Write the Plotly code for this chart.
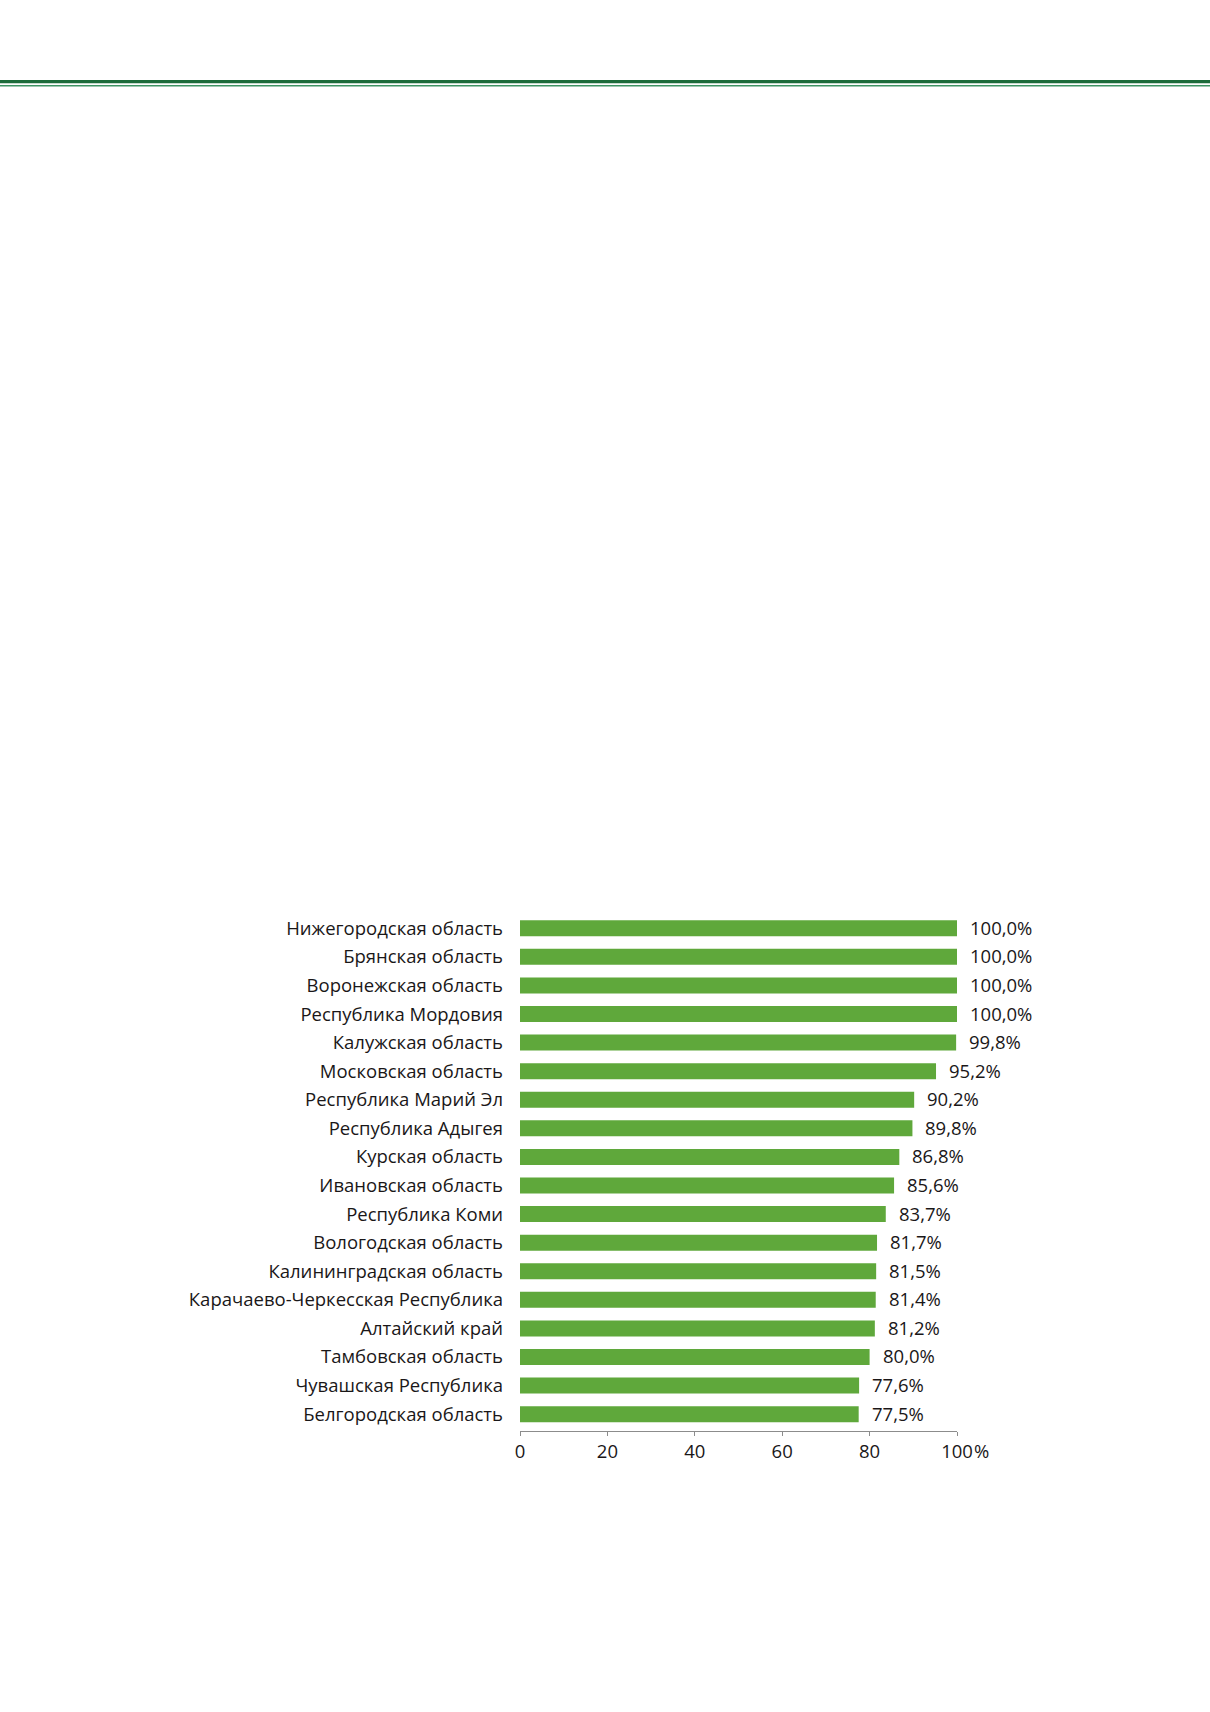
import plotly.graph_objects as go

# Data (share, %)
regions = [
    "Нижегородская область",
    "Брянская область",
    "Воронежская область",
    "Республика Мордовия",
    "Калужская область",
    "Московская область",
    "Республика Марий Эл",
    "Республика Адыгея",
    "Курская область",
    "Ивановская область",
    "Республика Коми",
    "Вологодская область",
    "Калининградская область",
    "Карачаево-Черкесская Республика",
    "Алтайский край",
    "Тамбовская область",
    "Чувашская Республика",
    "Белгородская область",
]
values = [100.0, 100.0, 100.0, 100.0, 99.8, 95.2, 90.2, 89.8, 86.8, 85.6,
          83.7, 81.7, 81.5, 81.4, 81.2, 80.0, 77.6, 77.5]
tick_vals = [0, 20, 40, 60, 80, 100]
tick_text = ["0", "20", "40", "60", "80", "100"]

W, H = 1210, 1712
FONT = "Open Sans"
FS = 18.5
TEXT_COLOR = "#1a1718"
BAR_COLOR = "#5fa83b"

# plot area in page pixels (body margin is removed below)
L, R, T, B = 520, 957, 914, 1431

fig = go.Figure()

fig.add_trace(
    go.Bar(
        x=values,
        y=regions,
        orientation="h",
        width=0.56,
        marker=dict(color=BAR_COLOR, line=dict(width=0)),
        hoverinfo="x+y",
    )
)

# value labels to the right of each bar
for reg, val in zip(regions, values):
    fig.add_annotation(
        x=val,
        y=reg,
        xref="x",
        yref="y",
        text=f"{val:.1f}%".replace(".", ","),
        showarrow=False,
        xanchor="left",
        xshift=11,
        yshift=1,
        font=dict(family=FONT, size=FS, color=TEXT_COLOR),
    )

# "%" after the last tick label
fig.add_annotation(
    x=100,
    y=0,
    xref="x",
    yref="paper",
    text="%",
    showarrow=False,
    xanchor="left",
    yanchor="top",
    xshift=15,
    yshift=-5,
    font=dict(family=FONT, size=FS, color=TEXT_COLOR),
)

# double green rule at the top of the page
ph = B - T
pw = R - L
top_y = (B - 81.7) / ph
thin_y = (B - 85.8) / ph
x_left = -L / pw - 0.1
x_right = (W - L) / pw + 0.1
fig.update_layout(
    shapes=[
        dict(type="line", xref="paper", yref="paper", x0=x_left, x1=x_right,
             y0=top_y, y1=top_y, line=dict(color="#1c6b3a", width=3.2)),
        dict(type="line", xref="paper", yref="paper", x0=x_left, x1=x_right,
             y0=thin_y, y1=thin_y, line=dict(color="#3f9364", width=1.5)),
    ]
)

fig.update_layout(
    width=W,
    height=H,
    margin=dict(l=L, r=W - R, t=T, b=H - B, pad=0),
    paper_bgcolor="white",
    plot_bgcolor="white",
    showlegend=False,
    font=dict(family=FONT, size=FS, color=TEXT_COLOR),
)

fig.update_xaxes(
    range=[0, 100],
    tickvals=tick_vals,
    ticktext=tick_text,
    showgrid=False,
    zeroline=False,
    showline=True,
    linecolor="#8c8c8c",
    linewidth=1,
    ticks="outside",
    ticklen=4,
    tickcolor="#8c8c8c",
    tickfont=dict(family=FONT, size=FS, color=TEXT_COLOR),
    fixedrange=True,
)

fig.update_yaxes(
    categoryorder="array",
    categoryarray=regions,
    range=[len(regions) - 1 + 0.59, -0.5],
    showgrid=False,
    zeroline=False,
    showline=False,
    ticks="",
    ticklabelstandoff=16,
    tickfont=dict(family=FONT, size=FS, color=TEXT_COLOR),
    fixedrange=True,
)

fig.write_html(
    "out.html",
    config={"displayModeBar": False},
    post_script="document.body.style.margin='0px';",
)
